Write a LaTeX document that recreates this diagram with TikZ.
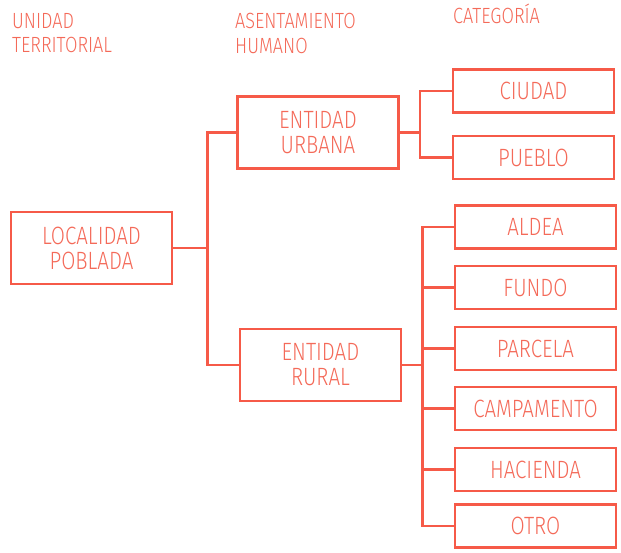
\documentclass[tikz,border=0pt]{standalone}
\usepackage{fontspec}
\usepackage{tikz}
\usetikzlibrary{positioning}
\newfontfamily\condfont[FakeStretch=0.82]{Fira Sans Light}
\definecolor{coral}{HTML}{F65A48}
\definecolor{coraltext}{HTML}{F46A59}

\begin{document}
\begin{tikzpicture}[
    x=1pt, y=-1pt,
    box/.style={draw=coral, line width=2.5pt, minimum width=161pt, minimum height=43pt,
                font=\condfont\fontsize{25}{25}\selectfont, text=coraltext, align=center},
    bigbox/.style={box, minimum height=72pt},
    head/.style={font=\condfont\fontsize{22}{24.5}\selectfont, text=coraltext, align=left, inner sep=0pt},
    link/.style={draw=coral, line width=2.5pt}
]
  \useasboundingbox (0,0) rectangle (621,553);

  % column headers
  \node[head, anchor=north west] (hunidad) at (12,13) {UNIDAD\\TERRITORIAL};
  \node[head, anchor=north west] (hasent) at (235,13) {ASENTAMIENTO\\HUMANO};
  \node[head, anchor=base west] (hcat) at (453,24) {CATEGORÍA};

  % boxes
  \node[bigbox] (localidad) at (91.5,248) {LOCALIDAD\\POBLADA};
  \node[bigbox] (urbana) at (318,132.5) {ENTIDAD\\URBANA};
  \node[bigbox] (rural) at (320.5,365) {ENTIDAD\\RURAL};

  \node[box] (ciudad) at (533.5,91) {CIUDAD};
  \node[box] (pueblo) at (533.5,157.5) {PUEBLO};

  \node[box] (aldea) at (535.5,227) {ALDEA};
  \node[box] (fundo) at (535.5,287.5) {FUNDO};
  \node[box] (parcela) at (535.5,348.5) {PARCELA};
  \node[box] (campamento) at (535.5,408.5) {CAMPAMENTO};
  \node[box] (hacienda) at (535.5,469.5) {HACIENDA};
  \node[box] (otro) at (535.5,526) {OTRO};

  % connectors
  \draw[link] (localidad.east) -- ++(34,0) |- (urbana.west);
  \draw[link] (localidad.east) -- ++(34,0) |- (rural.west);
  \foreach \c in {ciudad, pueblo}
    \draw[link] (urbana.east) -- ++(20,0) |- (\c.west);
  \foreach \c in {aldea, fundo, parcela, campamento, hacienda, otro}
    \draw[link] (rural.east) -- ++(20,0) |- (\c.west);
\end{tikzpicture}
\end{document}
